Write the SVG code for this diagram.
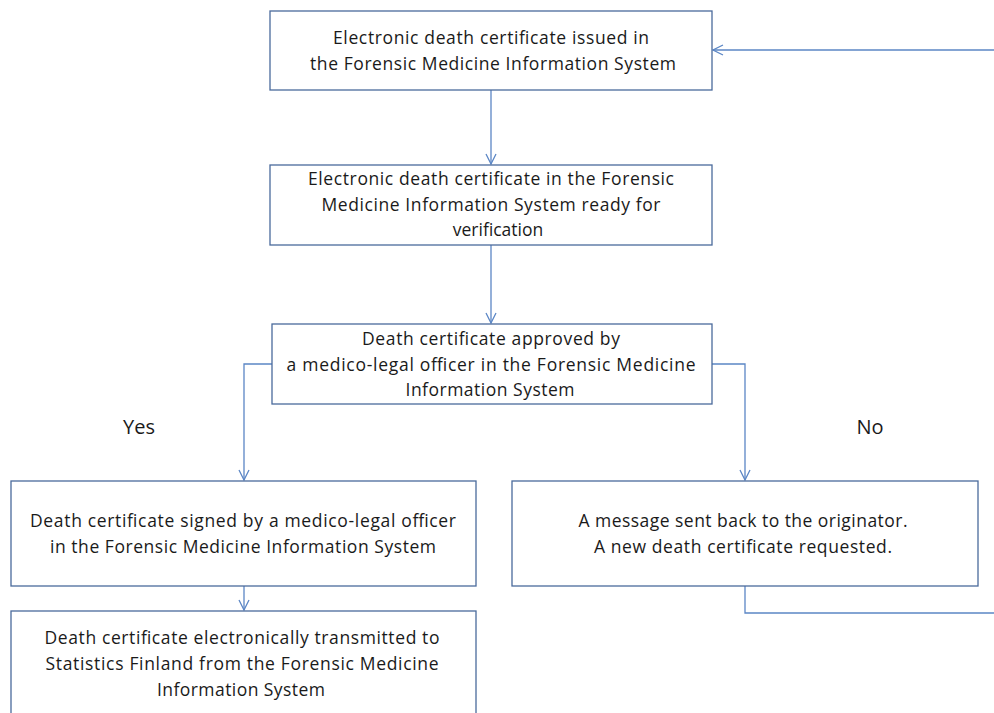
<svg xmlns="http://www.w3.org/2000/svg" width="994" height="713" viewBox="0 0 994 713">
  <style>
    .box { fill: #ffffff; stroke: #4a6a9c; stroke-width: 1.3; }
    .lbl { font-family: "Open Sans", "Liberation Sans", sans-serif; font-size: 17.5px; fill: #1a1a1a; text-anchor: middle; }
    .big { font-family: "Open Sans", "Liberation Sans", sans-serif; font-size: 20px; fill: #1a1a1a; text-anchor: middle; }
    .conn { fill: none; stroke: #5b86c5; stroke-width: 1.3; }
  </style>
  <defs>
    <marker id="arrow" viewBox="0 0 12 12" refX="11" refY="6" markerWidth="12" markerHeight="12" markerUnits="userSpaceOnUse" orient="auto">
      <path d="M1,1 L11,6 L1,11" fill="none" stroke="#5b86c5" stroke-width="1.3"/>
    </marker>
  </defs>
  <rect width="994" height="713" fill="#ffffff"/>

  <g id="connectors">
    <path class="conn" d="M491,90 V164" marker-end="url(#arrow)"/>
    <path class="conn" d="M491,245 V323" marker-end="url(#arrow)"/>
    <path class="conn" d="M272,364 H244 V480" marker-end="url(#arrow)"/>
    <path class="conn" d="M712,364 H745 V480" marker-end="url(#arrow)"/>
    <path class="conn" d="M244,586 V610" marker-end="url(#arrow)"/>
    <path class="conn" d="M745,586 V613 H994"/>
    <path class="conn" d="M994,50 H713" marker-end="url(#arrow)"/>
  </g>

  <g id="issued">
    <rect class="box" x="270" y="11" width="442" height="79"/>
    <text class="lbl" x="491" y="44" textLength="316">Electronic death certificate issued in</text>
    <text class="lbl" x="493" y="70" textLength="366">the Forensic Medicine Information System</text>
  </g>

  <g id="ready">
    <rect class="box" x="270" y="165" width="442" height="80"/>
    <text class="lbl" x="491" y="185" textLength="366">Electronic death certificate in the Forensic</text>
    <text class="lbl" x="491" y="211" textLength="339">Medicine Information System ready for</text>
    <text class="lbl" x="498" y="236">verification</text>
  </g>

  <g id="approved">
    <rect class="box" x="272" y="324" width="440" height="80"/>
    <text class="lbl" x="491" y="345" textLength="258">Death certificate approved by</text>
    <text class="lbl" x="491" y="371" textLength="409">a medico-legal officer in the Forensic Medicine</text>
    <text class="lbl" x="490" y="396" textLength="169">Information System</text>
  </g>

  <g id="label-yes">
    <text class="big" x="139" y="434">Yes</text>
  </g>
  <g id="label-no">
    <text class="big" x="870" y="434">No</text>
  </g>

  <g id="signed">
    <rect class="box" x="11" y="481" width="465" height="105"/>
    <text class="lbl" x="243" y="527" textLength="426">Death certificate signed by a medico-legal officer</text>
    <text class="lbl" x="243" y="553" textLength="386">in the Forensic Medicine Information System</text>
  </g>

  <g id="rejected">
    <rect class="box" x="512" y="481" width="466" height="105"/>
    <text class="lbl" x="743" y="527" textLength="329">A message sent back to the originator.</text>
    <text class="lbl" x="743" y="553" textLength="298">A new death certificate requested.</text>
  </g>

  <g id="transmitted">
    <rect class="box" x="11" y="611" width="465" height="110"/>
    <text class="lbl" x="242" y="644" textLength="395">Death certificate electronically transmitted to</text>
    <text class="lbl" x="242" y="670" textLength="393">Statistics Finland from the Forensic Medicine</text>
    <text class="lbl" x="241" y="696" textLength="168">Information System</text>
  </g>
</svg>
